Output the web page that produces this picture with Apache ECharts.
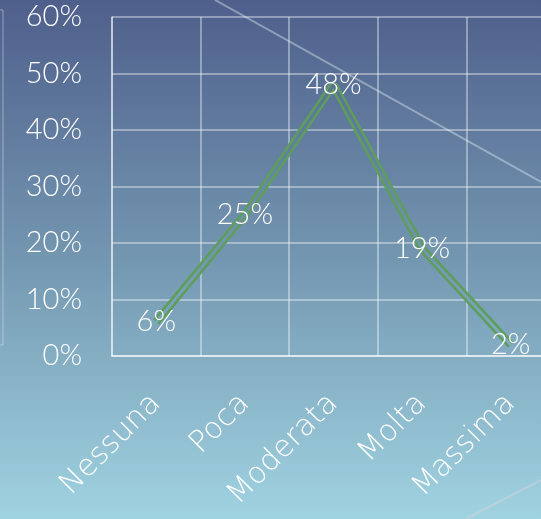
<!DOCTYPE html>
<html>
<head>
<meta charset="utf-8">
<script src="https://cdn.jsdelivr.net/npm/echarts@6/dist/echarts.min.js"></script>
<style>
html,body{margin:0;padding:0;}
#c{width:541px;height:519px;}
</style>
</head>
<body>
<div id="c"></div>
<script>
var categories = ['Nessuna', 'Poca', 'Moderata', 'Molta', 'Massima'];
var values = [6, 25, 48, 19, 2];
var yTicks = [0, 10, 20, 30, 40, 50, 60];

var FONT_NUM = "'Century Gothic', 'URW Gothic', Lato, sans-serif";
var FONT_CAT = "'Century Gothic', 'URW Gothic', 'DejaVu Sans', sans-serif";
var bgStops = [
  { offset: 0, color: '#4e5f8b' },
  { offset: 0.5, color: '#7497b1' },
  { offset: 1, color: '#a0d3e1' }
];

var chart = echarts.init(document.getElementById('c'));
chart.setOption({
  backgroundColor: new echarts.graphic.LinearGradient(0, 0, 0, 1, bgStops),
  animation: false,
  graphic: [
    { type: 'line', shape: { x1: 215, y1: 0, x2: 541, y2: 182 },
      style: { stroke: 'rgba(220,230,240,0.45)', lineWidth: 2 }, z: -1 },
    { type: 'line', shape: { x1: 466, y1: 519, x2: 541, y2: 480 },
      style: { stroke: 'rgba(200,210,220,0.6)', lineWidth: 2 }, z: -1 },
    { type: 'polyline', shape: { points: [[0, 10], [3, 10], [3, 345], [0, 345]] },
      style: { stroke: 'rgba(230,235,245,0.45)', lineWidth: 1, fill: null }, z: -1 }
  ],
  grid: { left: 112, top: 17, width: 443, height: 339, outerBoundsMode: 'none', containLabel: false },
  xAxis: {
    type: 'category',
    data: categories,
    boundaryGap: true,
    axisLine: { show: true, lineStyle: { color: 'rgba(255,255,255,0.75)', width: 1.5 } },
    axisTick: { show: false },
    splitLine: { show: true, interval: 0, lineStyle: { color: 'rgba(255,255,255,0.5)', width: 1.5 } },
    axisLabel: { interval: 0, rotate: 45, margin: 43, color: '#ffffff', fontSize: 30, fontWeight: 200, fontFamily: FONT_CAT }
  },
  yAxis: {
    type: 'value',
    min: 0, max: 60, interval: 10,
    axisLine: { show: true, lineStyle: { color: 'rgba(255,255,255,0.6)', width: 1.5 } },
    axisTick: { show: false },
    splitLine: { show: true, lineStyle: { color: 'rgba(255,255,255,0.5)', width: 1.5 } },
    axisLabel: {
      margin: 30, color: '#ffffff', fontSize: 29, fontWeight: 300, fontFamily: FONT_NUM,
      formatter: function (v) { return yTicks.indexOf(v) >= 0 ? v + '%' : ''; }
    }
  },
  series: [
    {
      type: 'line', data: values, symbol: 'none', z: 2,
      lineStyle: { color: '#5c9e5a', width: 8 }
    },
    {
      type: 'line', data: values, symbol: 'circle', symbolSize: 1, z: 3,
      itemStyle: { color: 'rgba(0,0,0,0)' },
      lineStyle: {
        width: 3,
        color: new echarts.graphic.LinearGradient(0, 0, 0, 519, bgStops, true)
      },
      label: {
        show: true, position: 'inside', color: '#ffffff', fontSize: 29, fontWeight: 300, fontFamily: FONT_NUM,
        formatter: '{c}%'
      }
    }
  ]
});
</script>
</body>
</html>
